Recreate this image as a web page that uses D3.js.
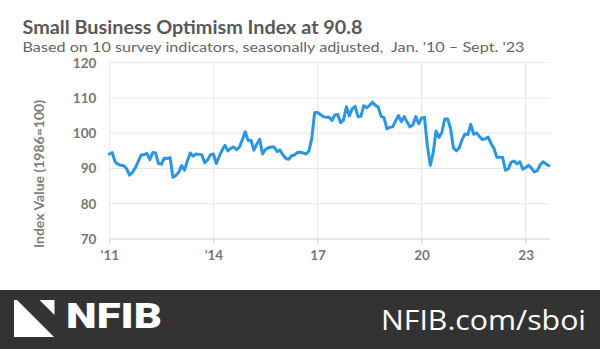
<!DOCTYPE html>
<html>
<head>
<meta charset="utf-8">
<script src="https://cdn.jsdelivr.net/npm/d3@7/dist/d3.min.js"></script>
<style>
  html, body { margin: 0; padding: 0; background: #fff; }
  svg { display: block; }
</style>
</head>
<body>
<script>
// ---- Data (Jan 2011 – Sept 2023, monthly, seasonally adjusted) ----
const startYear = 2011;
const values = [
  // 2011
  94.1, 94.5, 91.9, 91.2, 90.9, 90.8, 89.9, 88.1, 88.9, 90.2, 92.0, 93.8,
  // 2012
  93.9, 94.3, 92.5, 94.5, 94.4, 91.4, 91.2, 92.9, 92.8, 93.1, 87.5, 88.0,
  // 2013
  88.9, 90.8, 89.5, 92.1, 94.4, 93.5, 94.1, 94.0, 93.9, 91.6, 92.5, 93.9,
  // 2014
  94.1, 91.4, 93.4, 95.2, 96.6, 95.0, 95.7, 96.1, 95.3, 96.1, 98.1, 100.4,
  // 2015
  97.9, 98.0, 95.2, 96.9, 98.3, 94.1, 95.4, 95.9, 96.1, 96.1, 94.8, 95.2,
  // 2016
  93.9, 92.9, 92.6, 93.6, 93.8, 94.5, 94.6, 94.4, 94.1, 94.9, 98.4, 105.8,
  // 2017
  105.9, 105.3, 104.7, 104.5, 104.5, 103.6, 105.2, 105.3, 103.0, 103.8, 107.5, 104.9,
  // 2018
  106.9, 107.6, 104.7, 104.8, 107.8, 107.2, 107.9, 108.8, 107.9, 107.4, 104.8, 104.4,
  // 2019
  101.2, 101.7, 101.8, 103.5, 105.0, 103.3, 104.7, 103.1, 101.8, 102.4, 104.7, 102.7,
  // 2020
  104.3, 104.5, 96.4, 90.9, 94.4, 100.6, 98.8, 100.2, 104.0, 104.0, 101.4, 95.9,
  // 2021
  95.0, 95.8, 98.2, 99.8, 99.6, 102.5, 99.7, 100.1, 99.1, 98.2, 98.4, 98.9,
  // 2022
  97.1, 95.7, 93.2, 93.2, 93.1, 89.5, 89.9, 91.8, 92.1, 91.3, 91.9, 89.8,
  // 2023
  90.3, 90.9, 90.1, 89.0, 89.4, 91.0, 91.9, 91.3, 90.8
];
const yTicks = [70, 80, 90, 100, 110, 120];
const xTickMonths = [0, 36, 72, 108, 144];
const xTickLabels = ["'11", "'14", "17", "20", "23"];

const titleText = "Small Business Optimism Index at 90.8";
const subtitleText = "Based on 10 survey indicators, seasonally adjusted,\u00A0 Jan. '10 \u2013 Sept. '23";
const yAxisTitle = "Index Value (1986=100)";
const footerUrl = "NFIB.com/sboi";
const logoText = "NFIB";

// ---- Layout ----
const W = 600, H = 349;
const svg = d3.select("body").append("svg").attr("width", W).attr("height", H);

const x = d3.scaleLinear().domain([0, 144]).range([109.3, 525.7]);
const y = d3.scaleLinear().domain([70, 120]).range([239, 62.7]);
const plotRight = 550;

const font = "Lato, 'Open Sans', sans-serif";

// Title
svg.append("text").attr("x", 22.5).attr("y", 33.5)
  .attr("font-family", font).attr("font-weight", 700).attr("font-size", 19.5)
  .attr("fill", "#595959").attr("textLength", 340).attr("lengthAdjust", "spacingAndGlyphs")
  .text(titleText);
svg.append("text").attr("x", 22.5).attr("y", 51.5)
  .attr("font-family", font).attr("font-weight", 400).attr("font-size", 13.5)
  .attr("fill", "#666").attr("textLength", 502).attr("lengthAdjust", "spacingAndGlyphs")
  .text(subtitleText);

// Horizontal gridlines
const g = svg.append("g");
g.selectAll("line.hgrid").data(yTicks.filter(d => d !== 70)).enter().append("line")
  .attr("x1", x(0)).attr("x2", plotRight)
  .attr("y1", d => y(d)).attr("y2", d => y(d))
  .attr("stroke", "#e8e8e8").attr("stroke-width", 1);

// Vertical gridlines
g.selectAll("line.vgrid").data(xTickMonths).enter().append("line")
  .attr("x1", d => x(d)).attr("x2", d => x(d))
  .attr("y1", y(120)).attr("y2", y(70))
  .attr("stroke", "#e8e8e8").attr("stroke-width", 1);

// X axis
const xAxis = d3.axisBottom(x).tickValues(xTickMonths)
  .tickFormat((d, i) => xTickLabels[i]).tickSize(5).tickPadding(6);
const xg = svg.append("g").attr("transform", `translate(0,${y(70)})`).call(xAxis);
xg.select(".domain").remove();
xg.append("line").attr("x1", x(0)).attr("x2", plotRight).attr("y1", 0).attr("y2", 0)
  .attr("stroke", "#cfcfcf").attr("stroke-width", 1.2);
xg.selectAll(".tick line").attr("stroke", "#cfcfcf");
xg.selectAll(".tick text").attr("font-family", font).attr("font-weight", 700)
  .attr("font-size", 13.5).attr("fill", "#777");

// Y axis labels
const yAxis = d3.axisLeft(y).tickValues(yTicks).tickSize(0).tickPadding(13);
const yg = svg.append("g").attr("transform", `translate(${x(0)},0)`).call(yAxis);
yg.select(".domain").remove();
yg.selectAll(".tick text").attr("font-family", font).attr("font-weight", 700)
  .attr("font-size", 13.5).attr("fill", "#777");

// Y axis title
svg.append("text").attr("transform", "translate(44,174) rotate(-90)")
  .attr("text-anchor", "middle")
  .attr("font-family", font).attr("font-weight", 700).attr("font-size", 13)
  .attr("fill", "#7d7d7d").attr("textLength", 148).attr("lengthAdjust", "spacingAndGlyphs")
  .text(yAxisTitle);

// Line
const line = d3.line().x((d, i) => x(i)).y(d => y(d)).curve(d3.curveLinear);
svg.append("path").datum(values).attr("d", line)
  .attr("fill", "none").attr("stroke", "#2a96e4").attr("stroke-width", 3)
  .attr("stroke-linejoin", "round").attr("stroke-linecap", "round");

// Footer
svg.append("rect").attr("x", 0).attr("y", 290).attr("width", W).attr("height", H - 290)
  .attr("fill", "#333333");
// Logo icon
svg.append("polygon").attr("points", "14,300 17,300 54,337 14,337").attr("fill", "#fff");
svg.append("polygon").attr("points", "39.5,300 54.5,300 54.5,315").attr("fill", "#fff");
svg.append("text").attr("x", 66).attr("y", 328)
  .attr("font-family", "Roboto, 'Liberation Sans', sans-serif").attr("font-weight", 900)
  .attr("font-size", 35).attr("fill", "#fff")
  .attr("textLength", 96).attr("lengthAdjust", "spacingAndGlyphs")
  .text(logoText);
svg.append("text").attr("x", 586).attr("y", 330).attr("text-anchor", "end")
  .attr("font-family", "'Open Sans', 'Liberation Sans', sans-serif").attr("font-weight", 400)
  .attr("font-size", 28).attr("fill", "#fff")
  .attr("textLength", 205).attr("lengthAdjust", "spacingAndGlyphs")
  .text(footerUrl);
</script>
</body>
</html>
